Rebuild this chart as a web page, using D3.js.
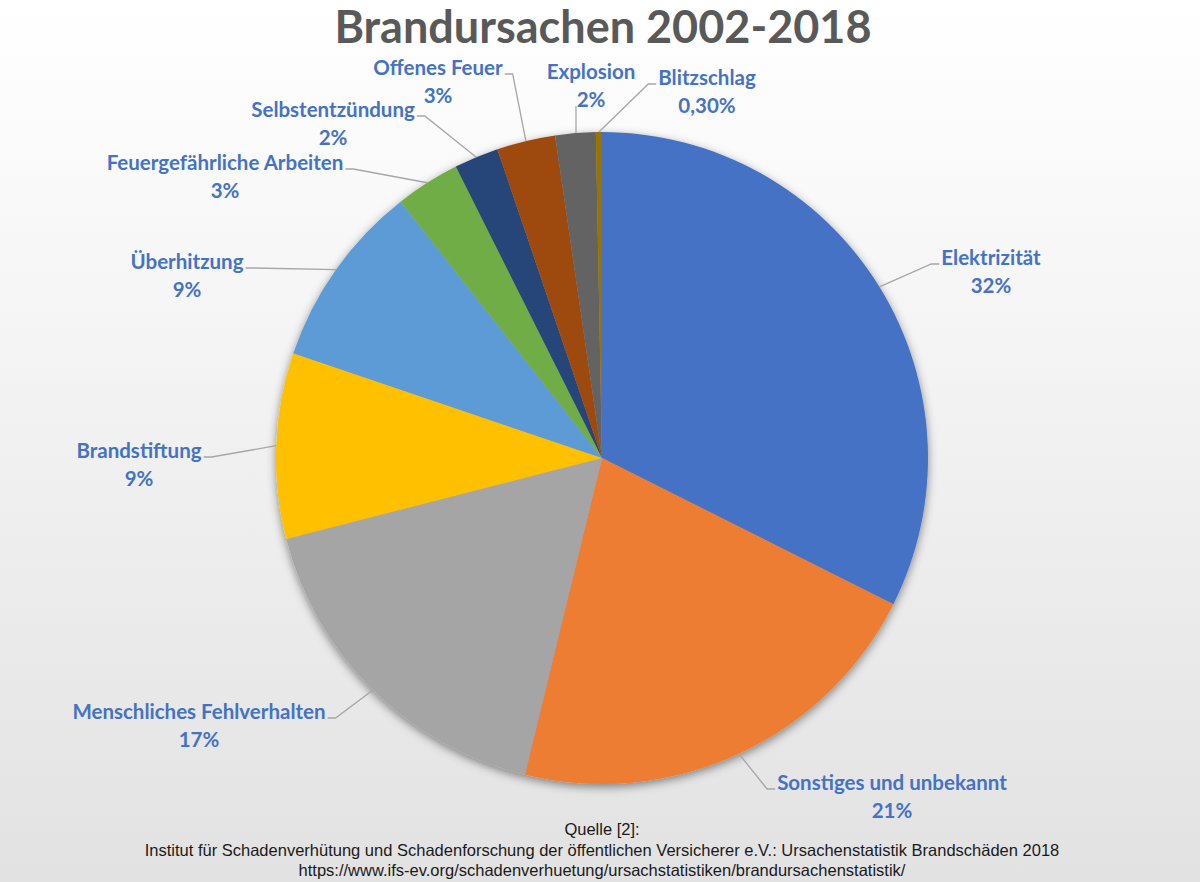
<!DOCTYPE html>
<html>
<head>
<meta charset="utf-8">
<script src="https://cdn.jsdelivr.net/npm/d3@7"></script>
<style>
  html, body { margin: 0; padding: 0; background: #fff; }
  svg { display: block; }
</style>
</head>
<body>
<svg id="chart" width="1200" height="882"></svg>
<script>
// ---- data ----
const categories = ["Elektrizität", "Sonstiges und unbekannt", "Menschliches Fehlverhalten", "Brandstiftung",
  "Überhitzung", "Feuergefährliche Arbeiten", "Selbstentzündung", "Offenes Feuer", "Explosion", "Blitzschlag"];
const values = [32.4, 21.4, 17.2, 9.2, 9.2, 3.2, 2.2, 2.9, 2.0, 0.3];
const percentLabels = ["32%", "21%", "17%", "9%", "9%", "3%", "2%", "3%", "2%", "0,30%"];
const colors = ["#4472C4", "#ED7D31", "#A5A5A5", "#FFC000", "#5B9BD5", "#70AD47", "#264478", "#9E480E", "#636363", "#997300"];
const titleText = "Brandursachen 2002-2018";
const sourceLines = [
  "Quelle [2]:",
  "Institut für Schadenverhütung und Schadenforschung der öffentlichen Versicherer e.V.: Ursachenstatistik Brandschäden 2018",
  "https://www.ifs-ev.org/schadenverhuetung/ursachstatistiken/brandursachenstatistik/"
];

// ---- layout (label centre x, first-line centre y, leader side) ----
const labelLayout = [
  { x: 991, y: 258, side: "left" },
  { x: 892, y: 783, side: "left" },
  { x: 199, y: 712, side: "right" },
  { x: 139, y: 451, side: "right" },
  { x: 187, y: 262, side: "right" },
  { x: 225, y: 163, side: "right" },
  { x: 333, y: 110, side: "right" },
  { x: 438, y: 68, side: "right" },
  { x: 591, y: 72, side: "bottom" },
  { x: 707, y: 78, side: "left" }
];

const W = 1200, H = 882;
const cx = 602, cy = 458, R = 326;
const svg = d3.select("#chart");

const defs = svg.append("defs");
const grad = defs.append("linearGradient").attr("id", "bg").attr("x1", 0).attr("y1", 0).attr("x2", 0).attr("y2", 1);
grad.append("stop").attr("offset", "0%").attr("stop-color", "#ffffff");
grad.append("stop").attr("offset", "12%").attr("stop-color", "#fcfcfc");
grad.append("stop").attr("offset", "100%").attr("stop-color", "#e2e2e2");

const filt = defs.append("filter").attr("id", "shadow").attr("x", "-20%").attr("y", "-20%").attr("width", "140%").attr("height", "140%");
filt.append("feDropShadow").attr("dx", 0).attr("dy", 3).attr("stdDeviation", 5)
  .attr("flood-color", "#000").attr("flood-opacity", 0.45);

svg.append("rect").attr("width", W).attr("height", H).attr("fill", "url(#bg)");

// title
svg.append("text")
  .attr("x", 603).attr("y", 43)
  .attr("text-anchor", "middle")
  .attr("font-family", "Lato, 'Open Sans', sans-serif")
  .attr("font-weight", 700)
  .attr("font-size", 45)
  .attr("fill", "#595959")
  .text(titleText);

// pie
const pieData = d3.pie().sort(null).value(d => d)(values);
const arc = d3.arc().innerRadius(0).outerRadius(R);
const g = svg.append("g").attr("transform", `translate(${cx},${cy})`);
g.append("g").attr("filter", "url(#shadow)")
  .selectAll("path").data(pieData).join("path")
  .attr("d", arc)
  .attr("fill", (d, i) => colors[i]);

// labels
const labelG = svg.append("g");
const lineG = svg.append("g");
pieData.forEach((d, i) => {
  const L = labelLayout[i];
  const t = labelG.append("text")
    .attr("text-anchor", "middle")
    .attr("font-family", "Lato, 'Open Sans', sans-serif")
    .attr("font-weight", 700)
    .attr("font-size", 20.5)
    .attr("fill", "#4472C4");
  t.append("tspan").attr("x", L.x).attr("y", L.y + 7).text(categories[i]);
  t.append("tspan").attr("x", L.x).attr("y", L.y + 34.5).text(percentLabels[i]);

  const w1 = t.select("tspan").node().getComputedTextLength();
  const mid = (d.startAngle + d.endAngle) / 2;
  const px = cx + R * Math.sin(mid), py = cy - R * Math.cos(mid);
  let pts;
  if (L.side === "right") {
    const sx = L.x + w1 / 2 + 2, sy = L.y + 6;
    pts = [[sx, sy], [sx + 8, sy], [px, py]];
  } else if (L.side === "left") {
    const sx = L.x - w1 / 2 - 2, sy = L.y + 6;
    pts = [[sx, sy], [sx - 8, sy], [px, py]];
  } else {
    const sx = L.x - 15, sy = L.y + 34;
    pts = [[sx, sy], [sx, py]];
  }
  lineG.append("path")
    .attr("d", d3.line()(pts))
    .attr("fill", "none")
    .attr("stroke", "#a6a6a6")
    .attr("stroke-width", 1.3);
});

// source
const src = svg.append("text")
  .attr("text-anchor", "middle")
  .attr("font-family", "'Liberation Sans Narrow', 'Liberation Sans', Arial, sans-serif")
  .attr("font-size", 16.5)
  .attr("fill", "#1a1a1a");
sourceLines.forEach((s, i) => {
  src.append("tspan").attr("x", 602).attr("y", 835 + i * 20.5).text(s);
});
</script>
</body>
</html>
